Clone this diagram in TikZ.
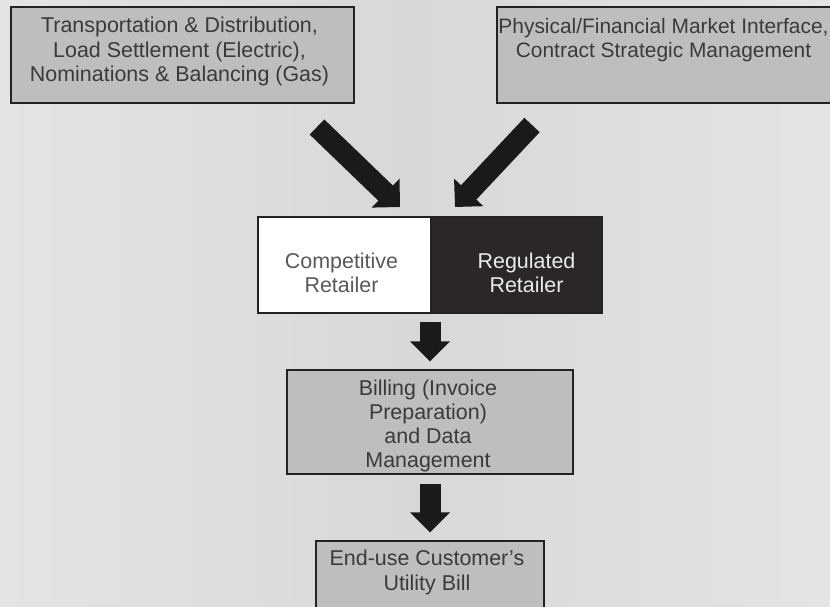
\documentclass[tikz,border=0pt]{standalone}
\usepackage{fontspec}
\setmainfont{Liberation Sans}
\usetikzlibrary{arrows.meta}

\definecolor{bgedge}{HTML}{E4E4E4}
\definecolor{bgmid}{HTML}{D8D8D8}
\definecolor{boxgray}{HTML}{BEBEBE}
\definecolor{boxline}{HTML}{222222}
\definecolor{txtgray}{HTML}{3A3A3A}
\definecolor{regdark}{HTML}{2B2727}
\definecolor{arrowfill}{HTML}{1A1A1A}

\begin{document}
\begin{tikzpicture}[
  box/.style={draw=boxline, line width=0.7pt, fill=boxgray, inner sep=0pt},
  txt/.style={align=center, inner sep=0pt, text=txtgray,
    font=\fontsize{12.2}{13.8}\selectfont},
  bigarrow/.style={draw=black, line width=0.42cm, arrowfill,
    -{Triangle[length=0.4cm, width=0.78cm]}}
]
\useasboundingbox (0,0) rectangle (16.6,-12.12);
\clip (0,0) rectangle (16.6,-12.12);

% background
\shade[left color=bgedge, right color=bgmid] (0,0) rectangle (8.3,-12.12);
\shade[left color=bgmid, right color=bgedge] (8.3,0) rectangle (16.6,-12.12);

% top boxes
\draw (3.65,-1.10) node[box, minimum width=6.86cm, minimum height=1.92cm] (trans) {};
\draw (3.59,-1.03) node[txt] (transtxt) {Transportation \& Distribution,\\Load Settlement (Electric),\\Nominations \& Balancing (Gas)};

\draw (13.44,-1.10) node[box, minimum width=7.0cm, minimum height=1.92cm] (phys) {};
\draw (13.27,-0.80) node[txt, font=\fontsize{11.9}{13.4}\selectfont] (phystxt) {Physical/Financial Market Interface,\\Contract Strategic Management};

% retailers
\draw (6.89,-5.30) node[box, fill=white, minimum width=3.46cm, minimum height=1.92cm] (comp) {};
\draw (10.33,-5.30) node[box, fill=regdark, minimum width=3.42cm, minimum height=1.92cm] (reg) {};
\draw (6.83,-5.46) node[txt, text=black!65] (comptxt) {Competitive\\Retailer};
\draw (10.53,-5.46) node[txt, text=white!92!black] (regtxt) {Regulated\\Retailer};

% billing and bill
\draw (8.60,-8.44) node[box, minimum width=5.72cm, minimum height=2.08cm] (billing) {};
\draw (8.56,-8.52) node[txt] (billingtxt) {Billing (Invoice\\Preparation)\\and Data\\Management};

\draw (8.60,-11.82) node[box, minimum width=4.56cm, minimum height=2.0cm] (bill) {};
\draw (8.54,-11.45) node[txt] (billtxt) {End-use Customer’s\\Utility Bill};

% arrows
\coordinate (ltail) at (6.34,-2.54);
\coordinate (ltip) at (8.00,-4.14);
\coordinate (rtail) at (10.64,-2.50);
\coordinate (rtip) at (9.10,-4.14);
\draw[bigarrow] (ltail) -- (ltip);
\draw[bigarrow] (rtail) -- (rtip);

\draw[bigarrow, shorten <=0.16cm, shorten >=0.16cm] (billing.north |- comp.south) -- (billing.north);
\draw[bigarrow, shorten <=0.18cm, shorten >=0.16cm] (billing.south) -- (bill.north);

\end{tikzpicture}
\end{document}
